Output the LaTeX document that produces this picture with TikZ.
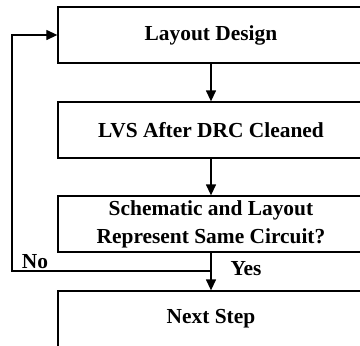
\documentclass[tikz,border=0pt]{standalone}
\usepackage{fontspec}
\setmainfont{Liberation Serif}
\usetikzlibrary{arrows.meta}
\begin{document}
\begin{tikzpicture}[x=1pt,y=-1pt,
  stepbox/.style={draw,line width=1.3pt,minimum width=306pt,minimum height=56pt,inner sep=0pt,
     font=\fontsize{21.4}{28}\selectfont\bfseries,align=center},
  conn/.style={line width=1.3pt,-{Triangle[length=11pt,width=10pt]}},
  lab/.style={font=\fontsize{21.4}{28}\selectfont\bfseries,inner sep=0pt}]
\useasboundingbox (0,0) rectangle (360,346);
\clip (0,0) rectangle (360,346);
\node[stepbox] (b1) at (211,35) {Layout Design};
\node[stepbox] (b2) at (211,130) {LVS After DRC Cleaned};
\node[stepbox] (b3) at (211,224) {Schematic and Layout\\Represent Same Circuit?};
\node[stepbox] (b4) at (211,319) {Next Step};
\coordinate (j) at (211,271);
\coordinate (c1) at (12,271);
\coordinate (c2) at (12,35);
\draw[conn] (b1) -- (b2);
\draw[conn] (b2) -- (b3);
\draw[conn] (b3) -- (b4);
\draw[conn] (j) -- (c1) -- (c2) -- (b1.west);
\node[lab] (no) at (35,262) {No};
\node[lab] (yes) at (246,269) {Yes};
\end{tikzpicture}
\end{document}
